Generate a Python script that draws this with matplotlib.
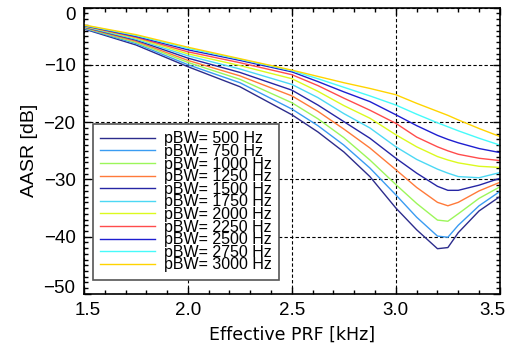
import matplotlib
matplotlib.use("Agg")
import matplotlib.pyplot as plt
import matplotlib.transforms as mtransforms
from matplotlib.ticker import MultipleLocator

# effective PRF [kHz]
prf = [1.5, 1.75, 2.0, 2.25, 2.5, 2.625, 2.75, 2.875, 3.0, 3.1, 3.2, 3.25, 3.3, 3.4, 3.5]

# AASR [dB] per processed bandwidth
aasr_500 = [-3.7, -6.5, -10.3, -13.8, -18.7, -21.7, -25.2, -29.5, -35.0, -38.8, -42.1, -41.9, -39.3, -35.5, -33.0]
aasr_750 = [-3.6, -6.25, -9.95, -13.1, -17.7, -20.6, -24.0, -28.0, -32.7, -36.6, -39.9, -40.1, -38.0, -34.6, -32.1]
aasr_1000 = [-3.5, -6.05, -9.55, -12.5, -16.6, -19.4, -22.7, -26.6, -30.9, -34.2, -37.1, -37.3, -36.0, -33.3, -31.3]
aasr_1250 = [-3.45, -5.85, -9.2, -11.9, -15.4, -18.1, -21.2, -24.5, -28.3, -31.4, -34.0, -34.6, -34.0, -32.0, -30.5]
aasr_1500 = [-3.35, -5.65, -8.8, -11.3, -14.4, -17.0, -19.9, -22.8, -26.3, -28.9, -31.2, -31.9, -31.9, -31.0, -29.8]
aasr_1750 = [-3.3, -5.5, -8.4, -10.7, -13.4, -15.7, -18.5, -21.0, -24.3, -26.5, -28.2, -28.9, -29.5, -29.7, -28.8]
aasr_2000 = [-3.2, -5.3, -8.05, -10.1, -12.4, -14.6, -17.1, -19.3, -22.2, -24.3, -26.0, -26.6, -27.1, -27.7, -27.9]
aasr_2250 = [-3.15, -5.15, -7.7, -9.6, -11.7, -13.6, -15.8, -17.9, -20.2, -22.6, -24.3, -25.0, -25.6, -26.3, -26.7]
aasr_2500 = [-3.1, -5.0, -7.35, -9.2, -11.2, -12.9, -14.7, -16.4, -18.7, -20.6, -22.3, -23.0, -23.6, -24.6, -25.3]
aasr_2750 = [-3.05, -4.85, -7.1, -9.0, -11.0, -12.4, -13.9, -15.4, -17.0, -18.6, -20.1, -20.8, -21.5, -22.8, -24.0]
aasr_3000 = [-3.0, -4.7, -6.9, -8.9, -10.9, -12.0, -13.1, -14.1, -15.2, -16.7, -18.1, -18.8, -19.6, -21.1, -22.5]

pbw = [500, 750, 1000, 1250, 1500, 1750, 2000, 2250, 2500, 2750, 3000]
curves = [aasr_500, aasr_750, aasr_1000, aasr_1250, aasr_1500, aasr_1750,
          aasr_2000, aasr_2250, aasr_2500, aasr_2750, aasr_3000]
colors = ["#2c2c8c", "#3a9cf2", "#9cf65a", "#ff7a3a", "#2626a4", "#4cd8f4",
          "#dcfa1e", "#ff4c4c", "#1e1ed0", "#46fafa", "#ffd400"]

fig = plt.figure(figsize=(5.18, 3.52), dpi=100)
ax = fig.add_axes([0.162, 0.165, 0.803, 0.813])

for bw, y, c in zip(pbw, curves, colors):
    ax.plot(prf, y, color=c, lw=1.0, label="pBW= %d Hz" % bw)

ax.set_xlim(1.5, 3.5)
ax.set_ylim(-50, 0)
ax.set_xticks([1.5, 2.0, 2.5, 3.0, 3.5])
ax.set_xticklabels(["1.5", "2.0", "2.5", "3.0", "3.5"])
ax.set_yticks([0, -10, -20, -30, -40, -50])
ax.set_yticklabels(["0", "\u221210", "\u221220", "\u221230", "\u221240", "\u221250"])
ax.xaxis.set_minor_locator(MultipleLocator(0.1))
ax.yaxis.set_minor_locator(MultipleLocator(1))
ax.tick_params(which="both", direction="in", top=True, right=True,
               labelsize=13.5, width=1.0)
ax.tick_params(which="major", length=5, pad=6)
ax.tick_params(which="minor", length=3)
for lab in ax.get_xticklabels() + ax.get_yticklabels():
    lab.set_family("Liberation Sans")
for s in ax.spines.values():
    s.set_linewidth(1.2)

ax.grid(True, which="major", color="black", ls=(0, (3, 2)), lw=0.8)

# push end labels inward like the original
def shift(lab, dx, dy):
    lab.set_transform(lab.get_transform() +
                      mtransforms.ScaledTranslation(dx / 100, dy / 100, fig.dpi_scale_trans))

xl = ax.get_xticklabels()
yl = ax.get_yticklabels()
shift(xl[0], 4, 0)
shift(xl[-1], -7, 0)
shift(yl[0], 0, -6)
shift(yl[-1], 0, 7)

ax.set_xlabel("Effective PRF [kHz]", fontsize=12.5, family="DejaVu Sans", labelpad=5)
ax.set_ylabel("AASR [dB]", fontsize=14, family="Liberation Sans", labelpad=4)

leg = ax.legend(loc="lower left", bbox_to_anchor=(0.022, 0.05),
                prop={"family": "Liberation Sans", "size": 11.5},
                labelspacing=-0.15, handlelength=3.4, handletextpad=0.6,
                borderpad=0.45, borderaxespad=0, fancybox=False, framealpha=1)
leg.get_frame().set_edgecolor("#555555")
leg.get_frame().set_linewidth(1.2)

fig.savefig("out.png", dpi=100)
